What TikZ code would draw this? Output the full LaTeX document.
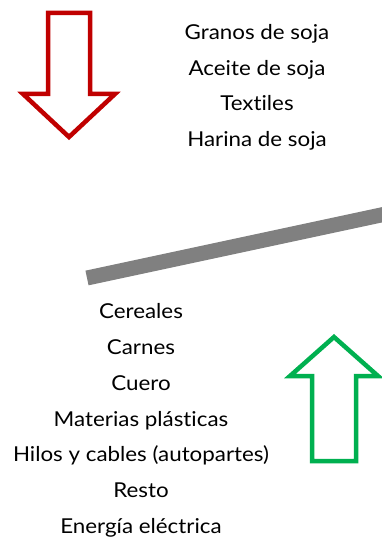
\documentclass[tikz,border=0pt]{standalone}
\usepackage{fontspec}
\setmainfont{Lato}[FakeStretch=1.09,Ligatures={NoCommon}]
\definecolor{arrred}{HTML}{C00000}
\definecolor{arrgreen}{HTML}{00B050}
\definecolor{bargray}{HTML}{808080}
\begin{document}
\begin{tikzpicture}[x=1pt,y=-1pt,
  lbl/.style={anchor=base,inner sep=0pt,font=\fontsize{20.5}{24}\selectfont},
  bigarrow/.style={line width=4.5pt,line join=miter,fill=white}]
\useasboundingbox (0,0) rectangle (381,537);
% red down arrow
\draw[bigarrow,draw=arrred] (48,13) -- (90,13) -- (90,94) -- (115,94) -- (69,137) -- (23,94) -- (48,94) -- cycle;
% green up arrow
\draw[bigarrow,draw=arrgreen] (312,461) -- (356,461) -- (356,376) -- (378,376) -- (334,337) -- (290,376) -- (312,376) -- cycle;
% gray bar
\coordinate (g1) at (87,278);
\coordinate (g2) at (395,212);
\draw[bargray,line width=15pt] (g1) -- (g2);
% top labels
\node[lbl] (t1) at (257,40) {Granos de soja};
\node[lbl] (t2) at (257,75.5) {Aceite de soja};
\node[lbl] (t3) at (257,111) {Textiles};
\node[lbl] (t4) at (257,146.5) {Harina de soja};
% bottom labels
\node[lbl] (b1) at (141,318) {Cereales};
\node[lbl] (b2) at (141,354) {Carnes};
\node[lbl] (b3) at (141,390) {Cuero};
\node[lbl] (b4) at (141,426) {Materias plásticas};
\node[lbl] (b5) at (141,461.5) {Hilos y cables (autopartes)};
\node[lbl] (b6) at (141,497) {Resto};
\node[lbl] (b7) at (141,533) {Energía eléctrica};
\end{tikzpicture}
\end{document}
